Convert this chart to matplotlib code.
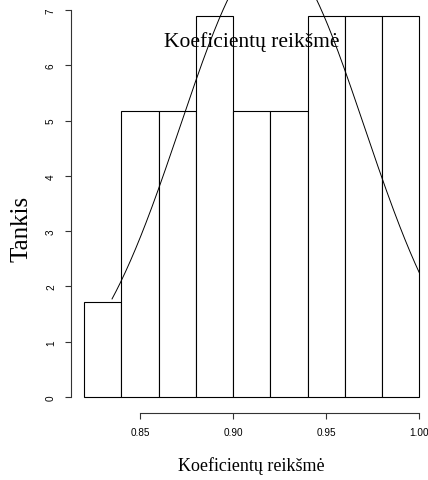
import numpy as np
import matplotlib
matplotlib.use("Agg")
import matplotlib.pyplot as plt

# histogram data (counts per bin)
bin_edges = [0.82, 0.84, 0.86, 0.88, 0.90, 0.92, 0.94, 0.96, 0.98, 1.00]
counts = [1, 3, 3, 4, 3, 3, 4, 4, 4]
# fitted normal curve
fit_mean = 0.921
fit_sd = 0.0494
curve_from, curve_to = 0.835, 1.00

xticks = [0.85, 0.90, 0.95, 1.00]
xtick_labels = ["0.85", "0.90", "0.95", "1.00"]
yticks = [0, 1, 2, 3, 4, 5, 6, 7]

title = "Koeficientų reikšmė"
xlabel = "Koeficientų reikšmė"
ylabel = "Tankis"

W, H = 428, 481
fig = plt.figure(figsize=(W / 100, H / 100), dpi=100)
fig.patch.set_facecolor("white")

# plot region like R: limits padded by 4%, bottom-left at pixel (70.7, 413.5)
x0, x1 = bin_edges[0], bin_edges[-1]
xpad = (x1 - x0) * 0.04
y0, y1 = 0, 7
ypad = (y1 - y0) * 0.04
left_px, right_px = 70.7, 432.7
bottom_px, top_px = 413.5, -4.5
ax = fig.add_axes([left_px / W, 1 - bottom_px / H,
                   (right_px - left_px) / W, (bottom_px - top_px) / H])
ax.set_xlim(x0 - xpad, x1 + xpad)
ax.set_ylim(y0 - ypad, y1 + ypad)

n = sum(counts)
widths = np.diff(bin_edges)
density = np.array(counts) / (n * widths)
ax.bar(bin_edges[:-1], density, width=widths, align="edge",
       facecolor="white", edgecolor="black", linewidth=0.8)

xs = np.linspace(curve_from, curve_to, 300)
ys = np.exp(-(xs - fit_mean) ** 2 / (2 * fit_sd ** 2)) / (fit_sd * np.sqrt(2 * np.pi))
ax.plot(xs, ys, color="black", linewidth=0.7)

for s in ["top", "right"]:
    ax.spines[s].set_visible(False)
ax.spines["left"].set_bounds(0, 7)
ax.spines["bottom"].set_bounds(xticks[0], xticks[-1])
for s in ["left", "bottom"]:
    ax.spines[s].set_linewidth(0.8)
    ax.spines[s].set_color("#333333")

ax.set_xticks(xticks)
ax.set_xticklabels(xtick_labels, fontfamily="Liberation Sans", fontsize=7.2)
ax.set_yticks(yticks)
ax.set_yticklabels([str(v) for v in yticks], fontfamily="Liberation Sans",
                   fontsize=7.2, rotation=90, va="center")
ax.tick_params(direction="out", length=4.3, width=0.8, color="#333333", pad=6.3)

fig.text(251.7 / W, 1 - 42 / H, title, ha="center", va="center",
         fontfamily="Liberation Serif", fontsize=15.5)
fig.text(251.5 / W, 1 - 466 / H, xlabel, ha="center", va="center",
         fontfamily="Liberation Serif", fontsize=13)
fig.text(21 / W, 1 - 229 / H, ylabel, ha="center", va="center", rotation=90,
         fontfamily="Liberation Serif", fontsize=18)

fig.savefig("out.png", dpi=100, facecolor="white")
